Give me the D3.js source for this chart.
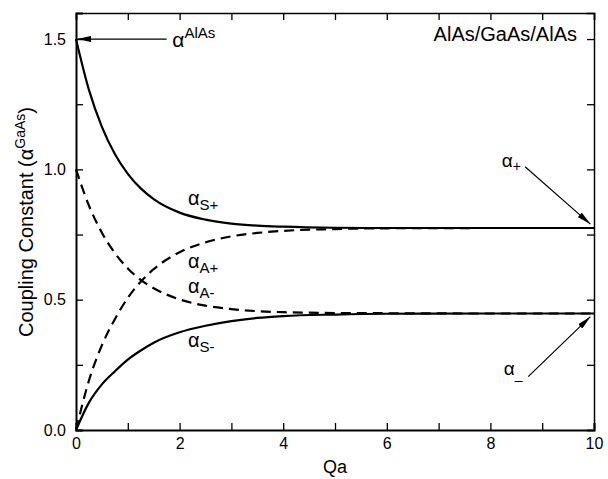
<!DOCTYPE html>
<html>
<head>
<meta charset="utf-8">
<script src="https://cdn.jsdelivr.net/npm/d3@7"></script>
<style>
body { margin: 0; background: #fff; }
svg { font-family: "Liberation Sans", Arial, Helvetica, sans-serif; }
.axis path, .axis line { stroke: #000; }
.axis text { font-size: 16px; fill: #000; }
.curve { fill: none; stroke: #000; stroke-width: 2.2; }
.dashed { stroke-dasharray: 10,6; }
</style>
</head>
<body>
<svg width="608" height="479"></svg>
<script>
// Qa grid and curve values
var qa    = [0, 0.25, 0.5, 0.75, 1, 1.25, 1.5, 2, 2.5, 3, 3.5, 4, 5, 6, 8, 10];
var alphaSplus  = [1.50, 1.305, 1.163, 1.059, 0.983, 0.927, 0.886, 0.834, 0.807, 0.792, 0.784, 0.780, 0.776, 0.775, 0.775, 0.775];
var alphaSminus = [0.0, 0.105, 0.175, 0.225, 0.270, 0.305, 0.335, 0.375, 0.400, 0.418, 0.430, 0.437, 0.443, 0.446, 0.447, 0.447];
var alphaAplus  = [0.0, 0.19, 0.325, 0.425, 0.507, 0.569, 0.617, 0.682, 0.720, 0.743, 0.756, 0.764, 0.771, 0.774, 0.775, 0.775];
var alphaAminus = [1.0, 0.861, 0.757, 0.679, 0.620, 0.576, 0.544, 0.501, 0.477, 0.464, 0.456, 0.452, 0.449, 0.448, 0.447, 0.447];

var xTicks = [0, 1, 2, 3, 4, 5, 6, 7, 8, 9, 10];
var xLabels = ["0", "", "2", "", "4", "", "6", "", "8", "", "10"];
var yTicks = [0, 0.25, 0.5, 0.75, 1.0, 1.25, 1.5];
var yLabels = ["0.0", "", "0.5", "", "1.0", "", "1.5"];

var svg = d3.select("svg"),
    margin = {top: 13, right: 14, bottom: 49, left: 76},
    width = +svg.attr("width") - margin.left - margin.right,
    height = +svg.attr("height") - margin.top - margin.bottom;

var x = d3.scaleLinear().domain([0, 10]).range([0, width]);
var y = d3.scaleLinear().domain([0, 1.6]).range([height, 0]);

var defs = svg.append("defs");
defs.append("marker")
    .attr("id", "head")
    .attr("markerUnits", "userSpaceOnUse")
    .attr("viewBox", "0 0 14 6")
    .attr("refX", 14).attr("refY", 3)
    .attr("markerWidth", 14).attr("markerHeight", 6)
    .attr("orient", "auto")
  .append("path")
    .attr("d", "M0,0L14,3L0,6Z")
    .attr("fill", "#000");

var g = svg.append("g")
    .attr("transform", "translate(" + margin.left + "," + margin.top + ")");

// axes, ticks pointing inward
g.append("g").attr("class", "axis")
    .attr("transform", "translate(0," + height + ")")
    .call(d3.axisBottom(x).tickValues(xTicks).tickSize(-7).tickPadding(8)
      .tickFormat(function(d, i) { return xLabels[i]; }))
    .call(function(s) { s.select(".domain").attr("stroke-width", 2); });

g.append("g").attr("class", "axis")
    .call(d3.axisTop(x).tickValues(xTicks).tickSize(-7).tickFormat(""))
    .call(function(s) { s.select(".domain").attr("stroke-width", 1.5); });

g.append("g").attr("class", "axis")
    .call(d3.axisLeft(y).tickValues(yTicks).tickSize(-7).tickPadding(10)
      .tickFormat(function(d, i) { return yLabels[i]; }))
    .call(function(s) { s.select(".domain").attr("stroke-width", 2); });

g.append("g").attr("class", "axis")
    .attr("transform", "translate(" + width + ",0)")
    .call(d3.axisRight(y).tickValues(yTicks).tickSize(-7).tickFormat(""))
    .call(function(s) { s.select(".domain").attr("stroke-width", 1.5); });

g.selectAll(".axis .tick line").attr("stroke-width", 1.3);

// curves
var line = d3.line()
    .x(function(d, i) { return x(qa[i]); })
    .y(function(d) { return y(d); })
    .curve(d3.curveMonotoneX);

g.append("path").datum(alphaSplus).attr("class", "curve").attr("d", line);
g.append("path").datum(alphaSminus).attr("class", "curve").attr("d", line);
g.append("path").datum(alphaAplus).attr("class", "curve dashed").attr("d", line);
g.append("path").datum(alphaAminus).attr("class", "curve dashed").attr("d", line);

// curve labels
var labels = [
  {sub: "S+", q: 2.16, v: 0.865},
  {sub: "A+", q: 2.16, v: 0.62},
  {sub: "A-", q: 2.16, v: 0.525},
  {sub: "S-", q: 2.16, v: 0.32}
];
labels.forEach(function(l) {
  var t = g.append("text")
      .attr("x", x(l.q)).attr("y", y(l.v))
      .attr("font-size", 20);
  t.append("tspan").text("α");
  t.append("tspan").attr("font-size", 15).attr("dy", 5).text(l.sub);
});

// arrows with labels
function arrow(q0, v0, q1, v1) {
  g.append("line")
    .attr("x1", x(q0)).attr("y1", y(v0))
    .attr("x2", x(q1)).attr("y2", y(v1))
    .attr("stroke", "#000").attr("stroke-width", 1.2)
    .attr("marker-end", "url(#head)");
}
arrow(1.75, 1.5, 0.02, 1.5);
arrow(8.67, 1.01, 9.93, 0.79);
arrow(8.73, 0.205, 9.93, 0.435);

var tA = g.append("text").attr("x", x(1.86)).attr("y", y(1.47)).attr("font-size", 21);
tA.append("tspan").text("α");
tA.append("tspan").attr("font-size", 15).attr("dy", -9).text("AlAs");

var tP = g.append("text").attr("x", x(8.22)).attr("y", y(1.01)).attr("font-size", 19);
tP.append("tspan").text("α");
tP.append("tspan").attr("font-size", 14).attr("dy", 4).text("+");

var tM = g.append("text").attr("x", x(8.26)).attr("y", y(0.21)).attr("font-size", 19);
tM.append("tspan").text("α");
tM.append("tspan").attr("font-size", 14).attr("dy", 4).text("_");

// structure label
svg.append("text")
    .attr("x", 577).attr("y", 41)
    .attr("text-anchor", "end")
    .attr("font-size", 20)
    .text("AlAs/GaAs/AlAs");

// axis titles
svg.append("text")
    .attr("x", margin.left + x(5)).attr("y", 473)
    .attr("text-anchor", "middle")
    .attr("font-size", 18)
    .text("Qa");

var yt = svg.append("text")
    .attr("transform", "translate(33,222) rotate(-90)")
    .attr("text-anchor", "middle")
    .attr("font-size", 20);
yt.append("tspan").text("Coupling Constant (α");
yt.append("tspan").attr("font-size", 14).attr("dy", -8).text("GaAs");
yt.append("tspan").attr("dy", 8).text(")");
</script>
</body>
</html>
